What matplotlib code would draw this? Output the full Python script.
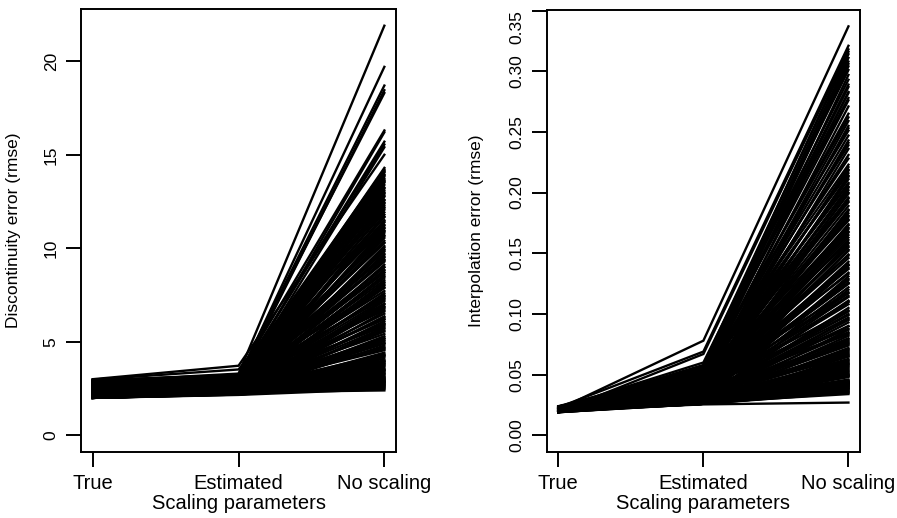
import matplotlib
matplotlib.use("Agg")
import matplotlib.pyplot as plt

categories = ["True", "Estimated", "No scaling"]

# discontinuity error (rmse), one entry per simulation run
disc_true = [
    2.45, 2.8, 2.1, 2.65, 2.3, 2.95, 2.15, 2.55, 2.75, 2.05,
    3.0, 2.4, 2.85, 2.2, 2.6, 2.35, 2.9, 2.12, 2.5, 2.7,
    2.02, 2.98, 2.28, 2.78, 2.44, 2.62, 2.88, 2.08, 2.38, 2.68,
    2.18, 2.52, 2.04, 2.92, 2.34, 2.14, 2.58, 2.82, 2.0, 2.26,
    2.72, 2.1, 2.48, 2.64, 2.01, 2.3, 2.54, 2.06, 2.86, 2.22,
    2.4, 2.03, 2.56, 2.16, 2.76, 2.08, 2.36, 2.24, 2.0, 2.66,
    2.12, 2.46, 2.02, 2.32, 2.7, 2.0, 2.2, 2.1, 2.5, 2.04,
    2.28, 2.06, 2.42, 2.02, 2.18, 2.6, 2.0, 2.14, 2.34, 2.05,
    2.22, 2.03, 2.44, 2.0, 2.12, 2.3, 2.01, 2.2, 2.0, 2.08,
    2.26, 2.02, 2.1, 2.04, 2.0, 2.16, 2.03, 2.08, 2.0, 2.12,
    2.02, 2.06, 2.0, 2.04, 2.01, 2.1, 2.0, 2.03, 2.0, 2.05,
    2.0, 2.04, 2.01, 2.02, 2.0, 2.0, 2.03, 2.01, 2.0, 2.06,
    2.6, 2.2, 2.9, 2.35, 2.75, 2.05, 2.5, 2.15, 2.85, 2.4,
    2.25, 2.7, 2.1, 2.55, 2.3, 2.95, 2.02, 2.45, 2.65, 2.18,
    2.8, 2.08, 2.38, 2.58, 2.0, 2.28, 2.48, 2.12, 2.68, 2.04,
    2.88, 2.32, 2.52, 2.16, 2.72, 2.06, 2.42, 2.22, 2.62, 2.01,
    2.36, 2.78, 2.14, 2.46, 2.03, 2.56, 2.24, 2.66, 2.09, 2.34,
    2.92, 2.44, 2.19, 2.74, 2.07, 2.54, 2.27, 2.64, 2.11, 2.03,
]
disc_est = [
    3.28, 3.05, 3.15, 2.92, 3.1, 3.22, 2.85, 3.0, 3.12, 2.78,
    3.72, 2.95, 3.18, 2.7, 3.02, 2.88, 3.25, 2.62, 2.98, 3.08,
    2.55, 3.52, 2.82, 3.14, 2.68, 2.9, 3.3, 2.48, 2.76, 3.04,
    2.6, 2.94, 2.42, 3.2, 2.72, 2.52, 2.86, 3.1, 2.38, 2.66,
    2.96, 2.5, 2.8, 3.0, 2.35, 2.64, 2.9, 2.45, 3.16, 2.58,
    2.74, 2.32, 2.84, 2.55, 3.06, 2.4, 2.7, 2.62, 2.28, 2.92,
    2.5, 2.78, 2.36, 2.66, 2.98, 2.3, 2.58, 2.44, 2.82, 2.26,
    2.62, 2.4, 2.72, 2.34, 2.54, 2.9, 2.25, 2.48, 2.68, 2.32,
    2.56, 2.38, 2.76, 2.24, 2.46, 2.62, 2.3, 2.52, 2.22, 2.42,
    2.6, 2.28, 2.44, 2.36, 2.2, 2.5, 2.32, 2.4, 2.24, 2.46,
    2.3, 2.38, 2.2, 2.34, 2.26, 2.42, 2.22, 2.3, 2.18, 2.28,
    2.24, 2.32, 2.2, 2.26, 2.18, 2.22, 2.28, 2.2, 2.16, 2.3,
    2.7, 3.1, 2.5, 2.9, 2.35, 3.0, 2.6, 2.8, 2.45, 3.05,
    2.55, 2.75, 2.3, 2.95, 2.65, 2.4, 2.85, 2.5, 2.7, 2.3,
    2.6, 2.45, 2.75, 2.35, 2.55, 2.25, 2.5, 2.3, 2.4, 2.22,
    3.15, 2.85, 2.62, 3.02, 2.48, 2.78, 2.36, 2.92, 2.58, 2.42,
    2.68, 2.32, 2.88, 2.52, 2.44, 2.7, 2.28, 2.6, 2.34, 2.26,
    2.96, 2.66, 2.4, 2.82, 2.5, 2.58, 2.38, 2.46, 2.3, 2.24,
]
disc_none = [
    21.9, 19.7, 18.7, 18.45, 18.3, 16.3, 16.2, 15.7, 15.55, 15.4,
    15.0, 14.3, 14.22, 14.15, 14.05, 13.95, 13.85, 13.74, 13.6, 13.5,
    13.38, 13.25, 13.1, 13.0, 12.9, 12.75, 12.6, 12.45, 12.3, 12.2,
    12.05, 11.92, 11.8, 11.66, 11.5, 11.38, 11.25, 11.1, 10.95, 10.82,
    10.7, 10.55, 10.4, 10.28, 10.12, 9.95, 9.82, 9.7, 9.55, 9.4,
    9.28, 9.12, 8.98, 8.85, 8.7, 8.58, 8.42, 8.3, 8.15, 8.0,
    7.88, 7.72, 7.6, 7.45, 7.32, 7.18, 7.05, 6.9, 6.78, 6.62,
    6.5, 6.36, 6.22, 6.1, 5.95, 5.82, 5.7, 5.55, 5.42, 5.3,
    5.18, 5.05, 4.92, 4.8, 4.68, 4.55, 4.42, 4.32, 4.2, 4.1,
    3.98, 3.88, 3.8, 3.7, 3.62, 3.55, 3.48, 3.4, 3.33, 3.26,
    3.2, 3.14, 3.08, 3.03, 2.98, 2.94, 2.9, 2.86, 2.82, 2.79,
    2.76, 2.73, 2.7, 2.67, 2.64, 2.6, 2.56, 2.52, 2.47, 2.4,
    13.9, 13.2, 12.8, 12.4, 11.7, 11.2, 10.9, 10.3, 9.9, 9.5,
    9.0, 8.7, 8.2, 7.9, 7.5, 7.0, 6.7, 6.3, 5.9, 5.6,
    5.2, 4.9, 4.6, 4.3, 4.0, 3.75, 3.5, 3.3, 3.1, 2.9,
    14.1, 13.55, 12.95, 12.15, 11.45, 10.65, 10.05, 9.35, 8.8, 8.05,
    7.4, 6.85, 6.2, 5.75, 5.1, 4.7, 4.25, 3.85, 3.45, 3.0,
    13.65, 12.55, 11.05, 9.65, 8.5, 7.25, 6.0, 4.95, 3.95, 2.85,
]

# interpolation error (rmse)
interp_true = [
    0.0215, 0.023, 0.0195, 0.022, 0.0205, 0.024, 0.019, 0.0225, 0.021, 0.020,
    0.0235, 0.0198, 0.0218, 0.0202, 0.0228, 0.0192, 0.021, 0.0238, 0.0196, 0.0222,
    0.0206, 0.0232, 0.0194, 0.0214, 0.0226, 0.0199, 0.0208, 0.0236, 0.0191, 0.0219,
    0.0203, 0.0224, 0.0197, 0.0212, 0.0233, 0.0193, 0.0207, 0.0221, 0.0195, 0.0229,
    0.0201, 0.0216, 0.0239, 0.019, 0.0211, 0.0227, 0.0198, 0.0204, 0.0234, 0.0192,
    0.0217, 0.0209, 0.0223, 0.0196, 0.0213, 0.0231, 0.0194, 0.0205, 0.022, 0.0199,
    0.0237, 0.0191, 0.0212, 0.0225, 0.0197, 0.0208, 0.0218, 0.0193, 0.023, 0.0202,
    0.0214, 0.0195, 0.0226, 0.019, 0.0209, 0.0221, 0.0198, 0.0235, 0.0204, 0.0192,
    0.0216, 0.0228, 0.0196, 0.0211, 0.0203, 0.0232, 0.0194, 0.0219, 0.0207, 0.0199,
    0.0224, 0.0191, 0.0213, 0.0236, 0.0197, 0.0205, 0.0222, 0.0193, 0.021, 0.0229,
    0.0201, 0.0217, 0.0195, 0.0233, 0.0208, 0.0192, 0.0215, 0.0226, 0.0198, 0.0206,
    0.0238, 0.0194, 0.0212, 0.0203, 0.0227, 0.0196, 0.0219, 0.0209, 0.0231, 0.02,
    0.0222, 0.0197, 0.0213, 0.0234, 0.0201, 0.0218, 0.0193, 0.0227, 0.0209, 0.0238,
    0.0195, 0.0216, 0.0204, 0.0231, 0.0191, 0.0224, 0.0207, 0.0199, 0.0236, 0.0212,
    0.0196, 0.0229, 0.0203, 0.0219, 0.0192, 0.0233, 0.0208, 0.0225, 0.0198, 0.0214,
    0.0237, 0.0202, 0.0221, 0.0194, 0.0228, 0.021, 0.0239, 0.02, 0.0217, 0.0193,
    0.0226, 0.0205, 0.0232, 0.0197, 0.0215, 0.019, 0.0223, 0.0206, 0.0235, 0.0199,
    0.0211, 0.023, 0.0195, 0.022, 0.0203, 0.0237, 0.0192, 0.0218, 0.0208, 0.0227,
]
interp_est = [
    0.078, 0.069, 0.067, 0.058, 0.052, 0.055, 0.049, 0.06, 0.046, 0.053,
    0.05, 0.044, 0.056, 0.048, 0.042, 0.051, 0.045, 0.04, 0.054, 0.047,
    0.043, 0.05, 0.039, 0.046, 0.052, 0.041, 0.048, 0.037, 0.044, 0.05,
    0.038, 0.045, 0.042, 0.035, 0.047, 0.04, 0.033, 0.043, 0.038, 0.046,
    0.036, 0.041, 0.032, 0.044, 0.039, 0.034, 0.042, 0.03, 0.037, 0.04,
    0.033, 0.038, 0.031, 0.036, 0.029, 0.035, 0.04, 0.032, 0.028, 0.037,
    0.034, 0.03, 0.036, 0.029, 0.033, 0.038, 0.028, 0.031, 0.035, 0.027,
    0.032, 0.029, 0.034, 0.027, 0.031, 0.028, 0.033, 0.03, 0.026, 0.029,
    0.031, 0.027, 0.03, 0.028, 0.026, 0.029, 0.027, 0.028, 0.026, 0.027,
    0.028, 0.026, 0.027, 0.029, 0.026, 0.027, 0.026, 0.028, 0.026, 0.027,
    0.027, 0.026, 0.028, 0.026, 0.027, 0.026, 0.026, 0.027, 0.026, 0.0255,
    0.03, 0.032, 0.029, 0.034, 0.031, 0.036, 0.033, 0.038, 0.035, 0.04,
    0.048, 0.042, 0.051, 0.038, 0.045, 0.04, 0.047, 0.035, 0.043, 0.039,
    0.046, 0.033, 0.041, 0.037, 0.044, 0.031, 0.039, 0.035, 0.03, 0.042,
    0.034, 0.029, 0.036, 0.031, 0.028, 0.033, 0.027, 0.03, 0.026, 0.028,
    0.053, 0.045, 0.049, 0.04, 0.043, 0.037, 0.041, 0.034, 0.038, 0.032,
    0.036, 0.03, 0.034, 0.029, 0.031, 0.027, 0.028, 0.026, 0.029, 0.027,
    0.05, 0.054, 0.057, 0.052, 0.055, 0.048, 0.046, 0.051, 0.044, 0.047,
]
interp_none = [
    0.337, 0.321, 0.318, 0.314, 0.311, 0.308, 0.304, 0.301, 0.297, 0.289,
    0.287, 0.283, 0.278, 0.276, 0.271, 0.262, 0.259, 0.255, 0.251, 0.247,
    0.243, 0.239, 0.236, 0.231, 0.223, 0.221, 0.218, 0.214, 0.211, 0.208,
    0.205, 0.202, 0.199, 0.196, 0.193, 0.189, 0.186, 0.183, 0.18, 0.177,
    0.174, 0.171, 0.168, 0.165, 0.161, 0.158, 0.156, 0.153, 0.149, 0.146,
    0.143, 0.141, 0.138, 0.134, 0.131, 0.129, 0.126, 0.122, 0.12, 0.117,
    0.114, 0.111, 0.108, 0.105, 0.102, 0.099, 0.096, 0.093, 0.09, 0.087,
    0.084, 0.082, 0.079, 0.077, 0.074, 0.072, 0.069, 0.067, 0.065, 0.063,
    0.061, 0.059, 0.057, 0.056, 0.054, 0.052, 0.051, 0.049, 0.048, 0.046,
    0.045, 0.044, 0.043, 0.042, 0.041, 0.04, 0.039, 0.037, 0.035, 0.034,
    0.043, 0.042, 0.044, 0.041, 0.04, 0.038, 0.036, 0.05, 0.055, 0.027,
    0.06, 0.065, 0.07, 0.075, 0.08, 0.085, 0.095, 0.11, 0.125, 0.14,
    0.219, 0.213, 0.207, 0.2, 0.192, 0.185, 0.178, 0.17, 0.163, 0.155,
    0.148, 0.14, 0.133, 0.125, 0.118, 0.11, 0.103, 0.097, 0.09, 0.083,
    0.076, 0.071, 0.066, 0.062, 0.058, 0.053, 0.049, 0.045, 0.041, 0.038,
    0.216, 0.204, 0.195, 0.181, 0.167, 0.152, 0.137, 0.128, 0.115, 0.1,
    0.088, 0.078, 0.068, 0.059, 0.05, 0.043, 0.039, 0.036, 0.042, 0.044,
    0.265, 0.282, 0.293, 0.306, 0.316, 0.253, 0.241, 0.228, 0.173, 0.159,
]

disc_ticks = [0, 5, 10, 15, 20]
disc_ticklabels = ["0", "5", "10", "15", "20"]
interp_ticks = [0.0, 0.05, 0.10, 0.15, 0.20, 0.25, 0.30, 0.35]
interp_ticklabels = ["0.00", "0.05", "0.10", "0.15", "0.20", "0.25", "0.30", "0.35"]

plt.rcParams["font.family"] = ["Liberation Sans", "DejaVu Sans"]


def parcoord(ax, cols, ticks, ticklabels, ylabel):
    x = [1, 2, 3]
    for a, b, c in zip(*cols):
        ax.plot(x, [a, b, c], color="black", lw=1.7, solid_joinstyle="miter")
    top = max(cols[2])
    ax.set_ylim(-0.04 * top, 1.04 * top)
    ax.set_xlim(0.92, 3.08)
    ax.set_xticks(x)
    ax.set_xticklabels(categories, fontsize=14.5)
    ax.set_yticks(ticks)
    ax.set_yticklabels(ticklabels, fontsize=12.5, rotation=90, va="center")
    ax.tick_params(length=11, width=1.4, pad=5, color="black")
    for s in ax.spines.values():
        s.set_linewidth(1.4)
    ax.set_xlabel("Scaling parameters", fontsize=14.5)
    ax.set_ylabel(ylabel, fontsize=12.5)
    ax.xaxis.set_label_coords(0.5, -0.118)
    ax.yaxis.set_label_coords(-0.19, 0.5)
    ax.xaxis.label.set_va("center")


fig = plt.figure(figsize=(8.97, 5.18), dpi=100)
ax1 = fig.add_axes([0.0903, 0.128, 0.3512, 0.854])
ax2 = fig.add_axes([0.6095, 0.128, 0.3493, 0.8527])

parcoord(ax1, (disc_true, disc_est, disc_none), disc_ticks, disc_ticklabels,
         "Discontinuity error (rmse)")
parcoord(ax2, (interp_true, interp_est, interp_none), interp_ticks, interp_ticklabels,
         "Interpolation error (rmse)")
ax2.yaxis.set_label_coords(-0.2, 0.5)
# top label sits below its tick so it stays inside the figure
ax2.get_yticklabels()[-1].set_va("top")

fig.savefig("out.png", dpi=100)
